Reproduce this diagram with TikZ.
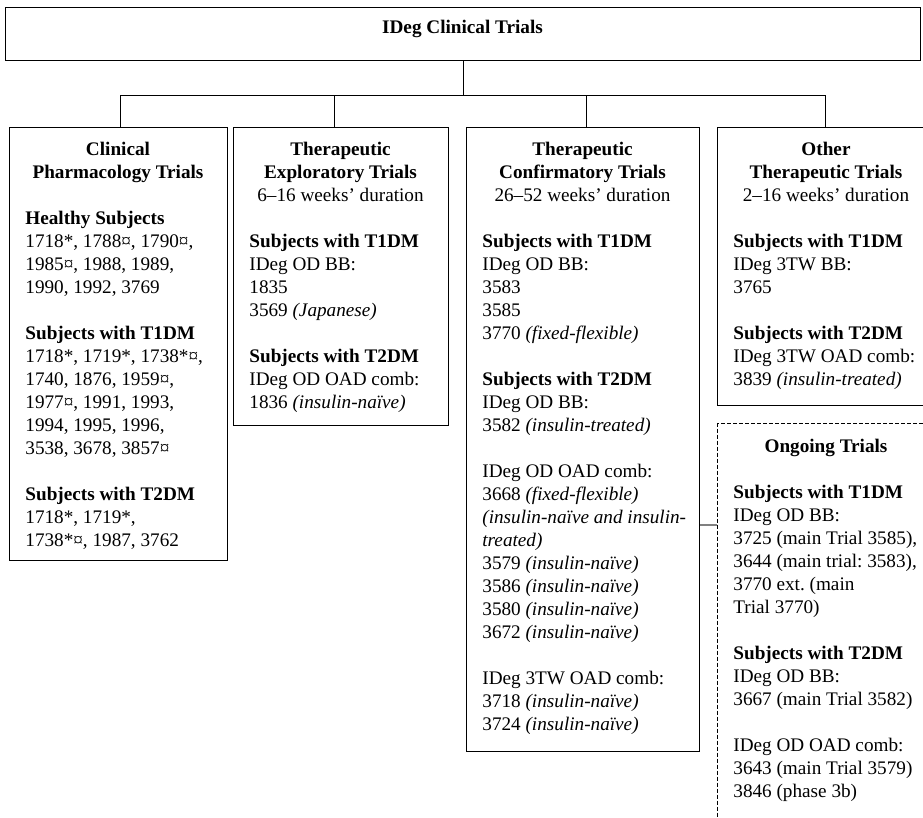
\documentclass[tikz,border=0pt]{standalone}
\usepackage{fontspec}
\setmainfont{Liberation Serif}
\usepackage{tikz}
\usepackage{xcolor}
\frenchspacing

\begin{document}
\begin{tikzpicture}[x=0.5pt,y=-0.5pt,
  mybox/.style={draw,line width=0.65pt,anchor=north west,inner sep=0},
  myhead/.style={anchor=north,align=center,inner sep=0,font=\bfseries\fontsize{9.6}{11.5}\selectfont},
  mytext/.style={anchor=north west,align=left,inner sep=0,font=\fontsize{9.6}{11.5}\selectfont}]
\useasboundingbox (0,0) rectangle (923,818);
\clip (0,0) rectangle (923,818);
\node [mybox,minimum width=457.5pt,minimum height=26.5pt] (top) at (5,7) {};
\node [anchor=base,inner sep=0,font=\bfseries\fontsize{9.6}{11.5}\selectfont] (title) at (462.5,34) {IDeg Clinical Trials};
\node [mybox,minimum width=109pt,minimum height=216.5pt] (c1) at (9,127) {};
\node [mybox,minimum width=107.5pt,minimum height=149pt] (c2) at (233,127) {};
\node [mybox,minimum width=116.5pt,minimum height=312pt] (c3) at (466,127) {};
\node [mybox,minimum width=109pt,minimum height=139pt] (c4) at (717,127) {};
\node [mybox,dash pattern=on 2pt off 1pt,minimum width=109pt,minimum height=208.5pt] (ongo) at (717,423) {};
\draw [line width=0.65pt] (top.south) -- ++(0,34) coordinate (bar);
  \foreach \col/\dx in {c1/1pt,c2/-3.5pt,c3/1.5pt,c4/-0.5pt}
  {  \draw [line width=0.65pt] (bar) -| ([xshift=\dx]\col.north);}
\coordinate (link) at (0,525);
\draw [gray,line width=0.65pt] (c3.east |- link) -- (ongo.west |- link);
% headers
\node [myhead] (h1) at (118,142) {Clinical\\Pharmacology Trials};
\node [myhead] (h2) at (340.5,142) {Therapeutic\\Exploratory Trials\\{\mdseries 6–16 weeks’ duration}};
\node [myhead] (h3) at (582.5,142) {Therapeutic\\Confirmatory Trials\\{\mdseries 26–52 weeks’ duration}};
\node [myhead] (h4) at (826,142) {Other\\Therapeutic Trials\\{\mdseries 2–16 weeks’ duration}};
\node [myhead] (h5) at (826,439) {Ongoing Trials};
% lists
\node [mytext] (t1) at (25,211) {{\bfseries Healthy Subjects}\\
1718*, 1788¤, 1790¤,\\
1985¤, 1988, 1989,\\
1990, 1992, 3769\\[11.5pt]
{\bfseries Subjects with T1DM}\\
1718*, 1719*, 1738*¤,\\
1740, 1876, 1959¤,\\
1977¤, 1991, 1993,\\
1994, 1995, 1996,\\
3538, 3678, 3857¤\\[11.5pt]
{\bfseries Subjects with T2DM}\\
1718*, 1719*,\\
1738*¤, 1987, 3762};
\node [mytext] (t2) at (249,234) {{\bfseries Subjects with T1DM}\\
IDeg OD BB:\\
1835\\
3569 \textit{(Japanese)}\\[11.5pt]
{\bfseries Subjects with T2DM}\\
IDeg OD OAD comb:\\
1836 \textit{(insulin-naïve)}};
\node [mytext] (t3) at (482,234) {{\bfseries Subjects with T1DM}\\
IDeg OD BB:\\
3583\\
3585\\
3770 \textit{(fixed-flexible)}\\[11.5pt]
{\bfseries Subjects with T2DM}\\
IDeg OD BB:\\
3582 \textit{(insulin-treated)}\\[11.5pt]
IDeg OD OAD comb:\\
3668 \textit{(fixed-flexible)}\\
\textit{(insulin-naïve and insulin-}\\
\textit{treated)}\\
3579 \textit{(insulin-naïve)}\\
3586 \textit{(insulin-naïve)}\\
3580 \textit{(insulin-naïve)}\\
3672 \textit{(insulin-naïve)}\\[11.5pt]
IDeg 3TW OAD comb:\\
3718 \textit{(insulin-naïve)}\\
3724 \textit{(insulin-naïve)}};
\node [mytext] (t4) at (733,234) {{\bfseries Subjects with T1DM}\\
IDeg 3TW BB:\\
3765\\[11.5pt]
{\bfseries Subjects with T2DM}\\
IDeg 3TW OAD comb:\\
3839 \textit{(insulin-treated)}};
\node [mytext] (t5) at (733,485) {{\bfseries Subjects with T1DM}\\
IDeg OD BB:\\
3725 (main Trial 3585),\\
3644 (main trial: 3583),\\
3770 ext. (main\\
Trial 3770)\\[11.5pt]
{\bfseries Subjects with T2DM}\\
IDeg OD BB:\\
3667 (main Trial 3582)\\[11.5pt]
IDeg OD OAD comb:\\
3643 (main Trial 3579)\\
3846 (phase 3b)};
\end{tikzpicture}
\end{document}
